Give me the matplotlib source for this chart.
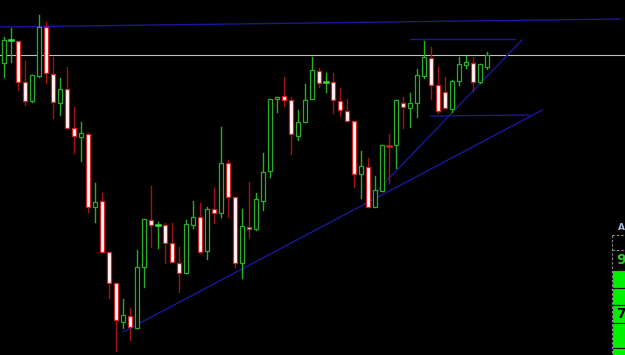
import numpy as np
import matplotlib.pyplot as plt
from matplotlib.patches import Rectangle

# OHLC (price units, 70 bars)
opens = [297, 320, 319, 278, 259, 284, 333, 286, 257, 271, 232, 223, 226, 153, 159, 108, 77, 38, 44, 32,
         93, 140, 134, 135, 117, 97, 87, 135, 143, 109, 151, 147, 197, 163, 97, 133, 131, 159, 189, 261,
         264, 260, 224, 238, 261, 289, 277, 278, 259, 249, 239, 186, 193, 153, 169, 215, 215, 257, 252, 257,
         284, 302, 275, 268, 251, 279, 295, 297, 278, 293]
highs = [323, 332, 319, 299, 285, 345, 338, 303, 282, 293, 253, 238, 227, 177, 167, 108, 77, 61, 52, 110,
         141, 174, 138, 137, 137, 113, 140, 159, 157, 153, 172, 233, 200, 163, 151, 178, 167, 207, 261, 263,
         283, 263, 250, 276, 303, 292, 287, 287, 272, 261, 239, 209, 202, 184, 215, 226, 260, 263, 267, 291,
         319, 313, 293, 283, 280, 303, 304, 303, 296, 308]
lows = [283, 298, 270, 255, 258, 283, 277, 242, 245, 232, 207, 199, 148, 138, 108, 62, 9, 32, 20, 32,
        73, 113, 112, 97, 98, 68, 87, 132, 107, 101, 137, 143, 143, 93, 82, 123, 130, 150, 183, 248,
        254, 206, 220, 238, 261, 273, 268, 247, 244, 239, 173, 162, 153, 153, 169, 177, 192, 232, 233, 243,
        282, 261, 247, 251, 248, 275, 292, 269, 277, 291]
closes = [320, 320, 278, 259, 285, 333, 287, 258, 271, 232, 224, 227, 153, 158, 108, 77, 40, 45, 33, 93,
          141, 135, 135, 117, 98, 87, 136, 143, 108, 151, 147, 197, 163, 97, 134, 131, 161, 188, 261, 263,
          260, 226, 238, 260, 290, 277, 278, 260, 250, 239, 186, 194, 153, 170, 215, 214, 260, 253, 257, 285,
          303, 275, 249, 252, 279, 296, 298, 278, 296, 305]

# drawn objects: (bar0, price0, bar1, price1)
resistance = (-0.6, 333, 88.0, 341)
level_line = 305
upper_box = (58.0, 321, 73.0, 321)
steep_trend = (53.4, 170, 74.0, 320)
main_trend = (17.0, 28, 76.9, 250)
lower_box = (61.0, 244, 75.1, 245)

# side panel cells (top, bottom in px) and labels
panel_rows = [(235, 250), (250, 270), (270, 288), (288, 305), (305, 323), (323, 348), (348, 356)]
panel_text = {1: "9", 4: "7"}

BULL = "#2aae2a"
BEAR_WICK = "#a01414"
BEAR_EDGE = "#d42020"
BLUE = "#18189a"

fig = plt.figure(figsize=(6.25, 3.55), dpi=100, facecolor="black")
ax = fig.add_axes([0, 0, 1, 1])
ax.set_facecolor("black")
ax.set_xlim(-4 / 7, 621 / 7)
ax.set_ylim(5, 360)
ax.axis("off")

ax.axhline(level_line, color="#c0c0c0", lw=0.8, zorder=1)
for x0, y0, x1, y1 in [resistance, upper_box, steep_trend, main_trend, lower_box]:
    ax.plot([x0, x1], [y0, y1], color=BLUE, lw=1.0, zorder=1)

w = 0.68
for i, (o, h, l, c) in enumerate(zip(opens, highs, lows, closes)):
    bull = c >= o
    wick = BULL if bull else BEAR_WICK
    ax.plot([i, i], [l, h], color=wick, lw=1.0, zorder=2)
    bottom, top = min(o, c), max(o, c)
    if top - bottom < 1.5:
        ax.plot([i - w / 2, i + w / 2], [c, c], color="#3ee03e" if bull else BEAR_EDGE, lw=1.8, zorder=3)
        continue
    ax.add_patch(Rectangle((i - w / 2, bottom), w, top - bottom,
                           facecolor="black" if bull else "white",
                           edgecolor=BULL if bull else BEAR_EDGE, lw=0.9, zorder=3))

# indicator panel at the right edge, drawn in pixel space
pax = fig.add_axes([0, 0, 1, 1])
pax.set_xlim(0, 625)
pax.set_ylim(355, 0)
pax.axis("off")
pax.patch.set_alpha(0)
for k, (t, b) in enumerate(panel_rows):
    face = "black" if k < 2 else "#00f000"
    pax.add_patch(Rectangle((612, t), 14, b - t, facecolor=face, edgecolor="#101010", lw=0.8))
pax.plot([612, 612], [235, 356], color="#909090", lw=0.8, ls=(0, (2, 2)))
pax.plot([612, 626], [235, 235], color="#909090", lw=0.8, ls=(0, (2, 2)))
pax.plot([612, 626], [250, 250], color="#909090", lw=0.8, ls=(0, (2, 2)))
pax.text(618, 228, "A", color="#a8b8d8", fontsize=6.5, fontweight="bold", ha="left", va="center")
for k, s in panel_text.items():
    t, b = panel_rows[k]
    pax.text(616, (t + b) / 2, s, color="#22cc22" if k < 2 else "black",
             fontsize=10, fontweight="bold", ha="left", va="center")

fig.savefig("out.png", dpi=100, facecolor="black")
